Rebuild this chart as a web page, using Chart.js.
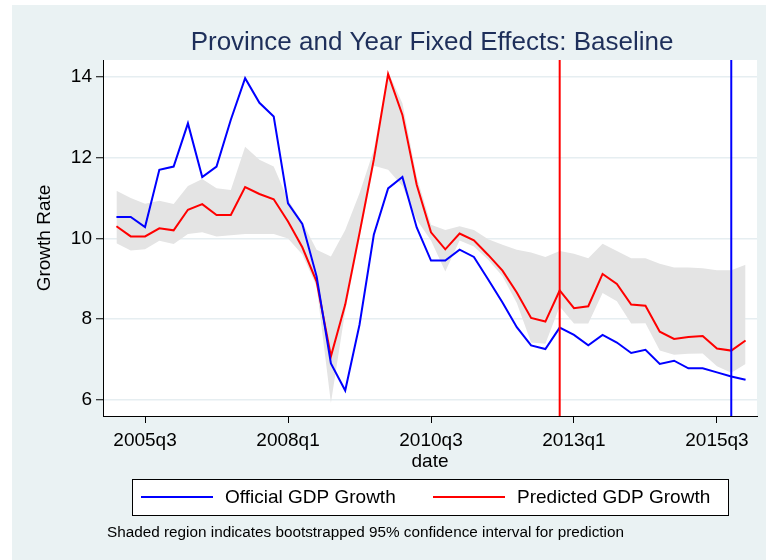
<!DOCTYPE html>
<html>
<head>
<meta charset="utf-8">
<script src="https://cdn.jsdelivr.net/npm/chart.js@4"></script>
<style>
  html, body { margin: 0; padding: 0; background: #fff; }
  #wrap { width: 766px; height: 560px; }
</style>
</head>
<body>
<div id="wrap"><canvas id="chart" width="766" height="560"></canvas></div>
<script>
/* Province and Year Fixed Effects: Baseline — official vs predicted GDP growth */

// 2005q1 .. 2016q1
const QUARTERS = [];
for (let y = 2005; y <= 2016; y++)
  for (let q = 1; q <= 4; q++)
    if (QUARTERS.length < 45) QUARTERS.push(y + "q" + q);

const OFFICIAL = [
  10.53, 10.53, 10.28, 11.70, 11.78, 12.85, 11.52, 11.78, 12.94, 13.97,
  13.36, 13.02, 10.87, 10.36, 9.06, 6.90, 6.23, 7.86, 10.09, 11.24,
  11.52, 10.27, 9.45, 9.45, 9.72, 9.54, 8.98, 8.41, 7.80, 7.35,
  7.26, 7.79, 7.61, 7.35, 7.61, 7.42, 7.16, 7.24, 6.89, 6.97,
  6.78, 6.78, 6.68, 6.58, 6.50,
];
const PREDICTED = [
  10.30, 10.05, 10.05, 10.25, 10.20, 10.71, 10.85, 10.58, 10.58, 11.27,
  11.10, 10.97, 10.42, 9.78, 8.93, 7.08, 8.36, 10.13, 11.95, 14.07,
  13.06, 11.33, 10.15, 9.73, 10.12, 9.95, 9.59, 9.20, 8.66, 8.03,
  7.94, 8.71, 8.27, 8.32, 9.12, 8.87, 8.36, 8.33, 7.69, 7.51,
  7.56, 7.58, 7.27, 7.22, 7.47,
];
const CI_HIGH = [
  11.18, 11.00, 10.86, 10.93, 10.85, 11.30, 11.47, 11.24, 11.20, 12.27,
  11.95, 11.78, 10.96, 10.40, 9.72, 9.55, 10.21, 11.12, 12.19, 14.13,
  13.35, 11.53, 10.34, 10.21, 10.30, 10.21, 9.98, 9.84, 9.72, 9.65,
  9.54, 9.69, 9.62, 9.51, 9.87, 9.69, 9.51, 9.51, 9.37, 9.28,
  9.28, 9.26, 9.21, 9.21, 9.35,
];
const CI_LOW = [
  9.88, 9.70, 9.73, 9.94, 9.86, 10.11, 10.15, 10.05, 10.08, 10.11,
  10.11, 10.11, 10.00, 9.60, 8.81, 5.92, 8.20, 10.00, 11.80, 11.70,
  11.30, 10.46, 9.95, 9.18, 9.95, 9.80, 9.47, 9.06, 8.40, 7.42,
  7.39, 8.31, 7.89, 7.89, 8.65, 8.44, 7.89, 7.90, 7.22, 7.12,
  7.14, 7.15, 6.83, 6.67, 6.89,
];

const X_TICK_LABELS = ["2005q3", "2008q1", "2010q3", "2013q1", "2015q3"];
const Y_TICKS = [6, 8, 10, 12, 14];
const RED_MARK = "2012q4";
const BLUE_MARK = "2015q4";

const Y_MIN = 5.6, Y_MAX = 14.42;
const X_MIN = -0.94, X_MAX = 44.8;

const FONT = '"Liberation Sans", Arial, sans-serif';
const BG = "#eaf2f3";

const pts = (arr) => arr.map((v, i) => ({ x: i, y: v }));
const vline = (q) => [{ x: QUARTERS.indexOf(q), y: Y_MIN }, { x: QUARTERS.indexOf(q), y: Y_MAX }];

const background = {
  id: "background",
  beforeDraw(chart) {
    const { ctx, chartArea: a } = chart;
    ctx.save();
    ctx.fillStyle = "#fff";
    ctx.fillRect(0, 0, chart.width, chart.height);
    ctx.fillStyle = BG;
    ctx.fillRect(12, 5, chart.width - 12, chart.height - 5);
    ctx.fillStyle = "#fff";
    ctx.fillRect(a.left, a.top, a.right - a.left, a.bottom - a.top);
    ctx.restore();
  },
};

const texts = {
  id: "texts",
  afterDraw(chart) {
    const { ctx, chartArea: a } = chart;
    const cx = (a.left + a.right) / 2;
    ctx.save();
    ctx.fillStyle = "#1e2f5a";
    ctx.font = "26px " + FONT;
    ctx.textAlign = "center";
    ctx.textBaseline = "alphabetic";
    ctx.fillText("Province and Year Fixed Effects: Baseline", cx + 2, 50);

    ctx.fillStyle = "#000";
    ctx.font = "19px " + FONT;
    ctx.fillText("date", cx, 467);

    ctx.save();
    ctx.translate(50, (a.top + a.bottom) / 2);
    ctx.rotate(-Math.PI / 2);
    ctx.fillText("Growth Rate", 0, 0);
    ctx.restore();

    // legend box
    ctx.fillStyle = "#fff";
    ctx.fillRect(132, 479, 596, 36);
    ctx.strokeStyle = "#000";
    ctx.lineWidth = 1;
    ctx.strokeRect(132.5, 479.5, 596, 36);
    const items = chart.data.datasets.filter((d) => d.legend);
    const xs = [141, 433];
    items.forEach((d, k) => {
      ctx.strokeStyle = d.borderColor;
      ctx.lineWidth = 2;
      ctx.beginPath();
      ctx.moveTo(xs[k], 497);
      ctx.lineTo(xs[k] + 72, 497);
      ctx.stroke();
      ctx.fillStyle = "#000";
      ctx.textAlign = "left";
      ctx.textBaseline = "middle";
      ctx.font = "19px " + FONT;
      ctx.fillText(d.label, xs[k] + 84, 498);
    });

    ctx.font = "15.3px " + FONT;
    ctx.textAlign = "left";
    ctx.textBaseline = "middle";
    ctx.fillText("Shaded region indicates bootstrapped 95% confidence interval for prediction", 107, 533);
    ctx.restore();
  },
};

new Chart(document.getElementById("chart"), {
  type: "line",
  data: {
    datasets: [
      { label: "", data: vline(BLUE_MARK), borderColor: "#0000ff", borderWidth: 2, order: 0 },
      { label: "", data: vline(RED_MARK), borderColor: "#ff0000", borderWidth: 2, order: 0 },
      { label: "Official GDP Growth", legend: true, data: pts(OFFICIAL), borderColor: "#0000ff", borderWidth: 2, order: 1 },
      { label: "Predicted GDP Growth", legend: true, data: pts(PREDICTED), borderColor: "#ff0000", borderWidth: 2, order: 1 },
      { label: "ci high", data: pts(CI_HIGH), borderWidth: 0, borderColor: "rgba(0,0,0,0)", backgroundColor: "#e4e4e4", fill: "+1", order: 2 },
      { label: "ci low", data: pts(CI_LOW), borderWidth: 0, borderColor: "rgba(0,0,0,0)", fill: false, order: 2 },
    ],
  },
  options: {
    responsive: false,
    animation: false,
    layout: { padding: { left: 0, right: 9, top: 60, bottom: 104 } },
    elements: { point: { radius: 0 }, line: { tension: 0 } },
    plugins: { legend: { display: false }, tooltip: { enabled: false }, title: { display: false } },
    scales: {
      x: {
        type: "linear",
        min: X_MIN,
        max: X_MAX,
        afterFit: (s) => { s.height = 40; },
        afterBuildTicks: (s) => { s.ticks = X_TICK_LABELS.map((l) => ({ value: QUARTERS.indexOf(l) })); },
        ticks: {
          callback: (v) => QUARTERS[v],
          color: "#000",
          font: { family: FONT, size: 19 },
          padding: 6,
          maxRotation: 0,
          autoSkip: false,
        },
        grid: { drawOnChartArea: false, tickLength: 7, tickColor: "#000", tickWidth: 1 },
        border: { color: "#000", width: 1 },
      },
      y: {
        min: Y_MIN,
        max: Y_MAX,
        afterFit: (s) => { s.width = 103; },
        afterBuildTicks: (s) => { s.ticks = Y_TICKS.map((v) => ({ value: v })); },
        ticks: { color: "#000", font: { family: FONT, size: 19 }, padding: 4 },
        grid: { color: "#e6eef1", lineWidth: 1.5, tickLength: 7, tickColor: "#000", tickWidth: 1 },
        border: { color: "#000", width: 1 },
      },
    },
  },
  plugins: [background, texts],
});
</script>
</body>
</html>
